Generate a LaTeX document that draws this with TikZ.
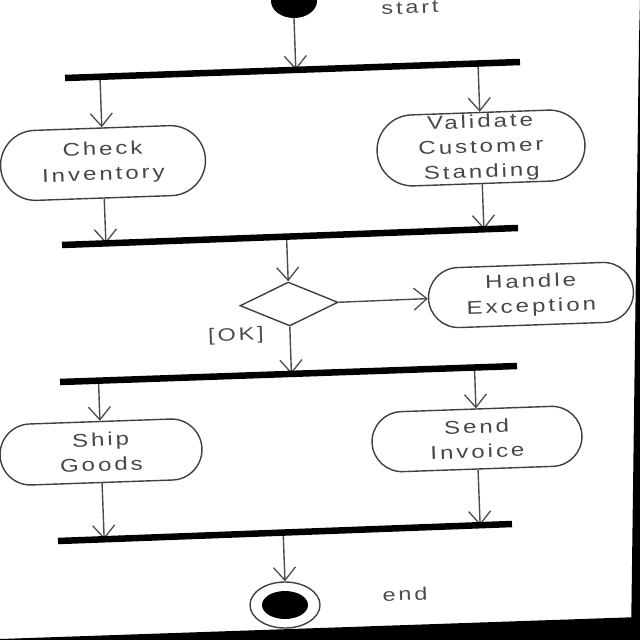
\documentclass[tikz,border=0pt]{standalone}
\usepackage{fontspec}
\setmainfont{Liberation Sans}[FakeStretch=1.3,LetterSpace=16]
\usetikzlibrary{shapes.misc,shapes.geometric,arrows.meta,calc}
\begin{document}
\begin{tikzpicture}[x=1pt,y=-1pt,
  act/.style={draw=black!75, line width=1.4pt, rounded rectangle, inner sep=0pt, rotate=2},
  txt/.style={text=black!72, font=\fontsize{18.5}{25}\selectfont, align=center, rotate=2, inner sep=0pt},
  flow/.style={draw=black!70, line width=1.4pt, -{Straight Barb[length=13pt,width=22pt,line width=1.3pt]}},
  bar/.style={line width=6.5pt, black},
  lbl/.style={text=black!70, font=\fontsize{18}{22}\selectfont, inner sep=0pt, rotate=2}]
\useasboundingbox (0,0) rectangle (640,640);
\fill[white] (0,0) rectangle (640,640);
% bars
\coordinate (b1l) at (65,78);  \coordinate (b1r) at (520,62);
\coordinate (b2l) at (62,245); \coordinate (b2r) at (518,228);
\coordinate (b3l) at (60,382); \coordinate (b3r) at (517,366);
\coordinate (b4l) at (58,541); \coordinate (b4r) at (512,524);
% start
\node[fill=black, ellipse, minimum width=46, minimum height=34, inner sep=0pt] (start) at (294,1) {};
\node[lbl] (startlbl) at (410,8) {start};
% activities
\node[act, minimum width=205, minimum height=70] (ci) at (103,163) {};
\node[txt] (citxt) at (ci) {Check\\Inventory};
\node[act, minimum width=208, minimum height=71] (vcs) at (481,148) {};
\node[txt] (vcstxt) at (vcs) {Validate\\Customer\\Standing};
\node[diamond, draw=black!75, line width=1.4pt, minimum width=98, minimum height=44, inner sep=0pt, rotate=2] (dec) at (289,304) {};
\node[act, minimum width=205, minimum height=60] (he) at (531,295) {};
\node[txt] (hetxt) at (he) {Handle\\Exception};
\node[lbl] (ok) at (236,336) {[OK]};
\node[act, minimum width=202, minimum height=61] (sg) at (101,452) {};
\node[txt] (sgtxt) at (sg) {Ship\\Goods};
\node[act, minimum width=210, minimum height=60] (si) at (477,439) {};
\node[txt] (sitxt) at (si) {Send\\Invoice};
% end
\node[draw=black!75, line width=1.4pt, ellipse, minimum width=70, minimum height=46, inner sep=0pt] (endo) at (285,605) {};
\node[fill=black, ellipse, minimum width=46, minimum height=28, inner sep=0pt] (endi) at (endo) {};
\node[lbl] (endlbl) at (405,594) {end};
% connectors
\draw[flow] (start.south) -- ($(b1l)!(start.south)!(b1r)$);
\draw[flow] ($(b1l)!(ci.north)!(b1r)$) -- (ci.north);
\draw[flow] ($(b1l)!(vcs.north)!(b1r)$) -- (vcs.north);
\draw[flow] (ci.south) -- ($(b2l)!(ci.south)!(b2r)$);
\draw[flow] (vcs.south) -- ($(b2l)!(vcs.south)!(b2r)$);
\draw[flow] ($(b2l)!(dec.north)!(b2r)$) -- (dec.north);
\draw[flow] (dec.east) -- (he.west);
\draw[flow] (dec.south) -- ($(b3l)!(dec.south)!(b3r)$);
\draw[flow] ($(b3l)!(sg.north)!(b3r)$) -- (sg.north);
\draw[flow] ($(b3l)!(si.north)!(b3r)$) -- (si.north);
\draw[flow] (sg.south) -- ($(b4l)!(sg.south)!(b4r)$);
\draw[flow] (si.south) -- ($(b4l)!(si.south)!(b4r)$);
\draw[flow] ($(b4l)!(endo.north)!(b4r)$) -- (endo.north);
% bars on top
\draw[bar] (b1l) -- (b1r);
\draw[bar] (b2l) -- (b2r);
\draw[bar] (b3l) -- (b3r);
\draw[bar] (b4l) -- (b4r);
% scan edges
\fill[black] (640,0) -- (639,40) -- (631,640) -- (640,640) -- cycle;
\fill[black] (0,639) -- (640,617) -- (640,640) -- (0,640) -- cycle;
\end{tikzpicture}
\end{document}
